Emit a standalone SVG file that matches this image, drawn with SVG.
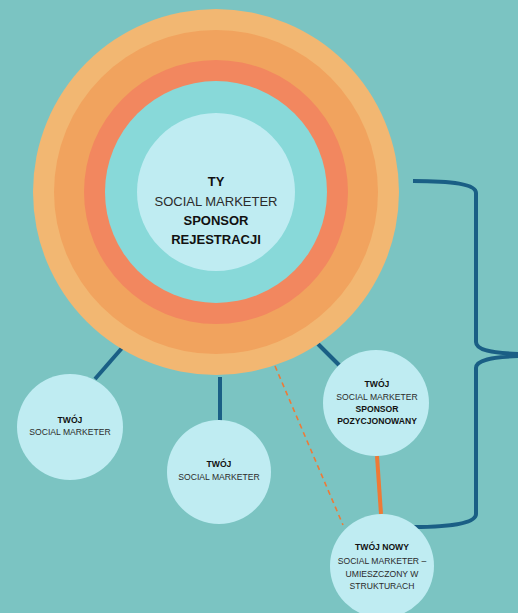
<svg xmlns="http://www.w3.org/2000/svg" width="518" height="613" viewBox="0 0 518 613">
<style>
text{font-family:"Liberation Sans",Arial,sans-serif;text-anchor:middle;fill:#2b2b2b}
.b{font-weight:bold;fill:#111}
.big{font-size:13px}
.sm{font-size:8.6px}
.node{fill:#BFECF2}
.blue{stroke:#1A5F85;stroke-width:4;fill:none}
</style>
<rect width="518" height="613" fill="#7BC4C2"/>
<g id="connectors">
<line class="blue" x1="122" y1="348" x2="95" y2="379"/>
<line class="blue" x1="220" y1="377" x2="220" y2="421"/>
<line class="blue" x1="318" y1="344" x2="340" y2="366"/>
<line x1="377" y1="456" x2="381" y2="514" stroke="#EE7A36" stroke-width="4"/>
<line x1="275" y1="366" x2="343" y2="525" stroke="#EE7A36" stroke-width="1.6" stroke-dasharray="5,4"/>
<path class="blue" d="M413,181 C452,181 476,184 476,193 L476,342 C476,350 492,353 518,354 M518,356 C492,357 476,360 476,368 L476,514 C476,523 452,527 413,527"/>
</g>
<g id="center">
<circle cx="216" cy="192" r="183" fill="#F2B772"/>
<circle cx="216" cy="192" r="162" fill="#F1A35E"/>
<circle cx="216" cy="192" r="132" fill="#F2875F"/>
<circle cx="216" cy="192" r="111" fill="#88D9D9"/>
<circle class="node" cx="216" cy="192" r="79"/>
<text class="big b" x="216" y="186">TY</text>
<text class="big" x="216" y="206">SOCIAL MARKETER</text>
<text class="big b" x="216" y="225">SPONSOR</text>
<text class="big b" x="216" y="244">REJESTRACJI</text>
</g>
<g id="node-left">
<circle class="node" cx="70" cy="427" r="53"/>
<text class="sm b" x="70" y="423">TWÓJ</text>
<text class="sm" x="70" y="435">SOCIAL MARKETER</text>
</g>
<g id="node-middle">
<circle class="node" cx="219" cy="472" r="52"/>
<text class="sm b" x="219" y="467">TWÓJ</text>
<text class="sm" x="219" y="480">SOCIAL MARKETER</text>
</g>
<g id="node-right">
<circle class="node" cx="376" cy="403" r="53"/>
<text class="sm b" x="377" y="387">TWÓJ</text>
<text class="sm" x="377" y="400">SOCIAL MARKETER</text>
<text class="sm b" x="377" y="412">SPONSOR</text>
<text class="sm b" x="377" y="424">POZYCJONOWANY</text>
</g>
<g id="node-bottom">
<circle class="node" cx="382" cy="566" r="52"/>
<text class="sm b" x="382" y="550">TWÓJ NOWY</text>
<text class="sm" x="382" y="564">SOCIAL MARKETER –</text>
<text class="sm" x="382" y="577">UMIESZCZONY W</text>
<text class="sm" x="382" y="589">STRUKTURACH</text>
</g>
</svg>
